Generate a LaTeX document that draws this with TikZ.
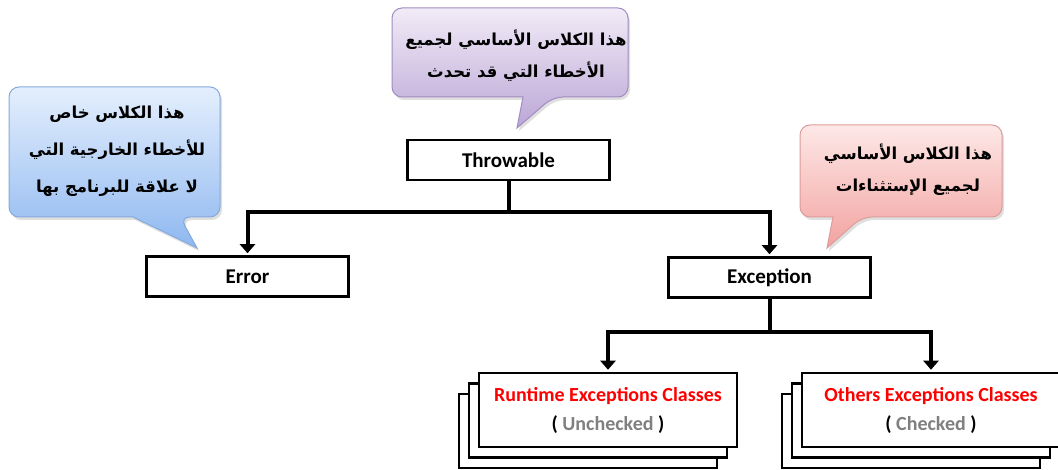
\documentclass[tikz,border=0pt]{standalone}
\usepackage{fontspec}
\setmainfont{Carlito}
\newfontfamily\arabicfont[Script=Arabic]{DejaVu Sans}
\TeXXeTstate=1
\usetikzlibrary{arrows.meta,shadows}

\definecolor{lilacTop}{HTML}{F1EBF7}
\definecolor{lilacBot}{HTML}{BBA6D6}
\definecolor{lilacEdge}{HTML}{A08CC2}
\definecolor{skyTop}{HTML}{E4EFFD}
\definecolor{skyBot}{HTML}{8FB8F0}
\definecolor{skyEdge}{HTML}{86A9DC}
\definecolor{roseTop}{HTML}{FDE8E7}
\definecolor{roseBot}{HTML}{F2A3A0}
\definecolor{roseEdge}{HTML}{DC9C9A}
\definecolor{tagGray}{HTML}{808080}

\begin{document}
\begin{tikzpicture}[x=1pt,y=-1pt,
 cls/.style={draw,line width=2.5pt,fill=white,minimum width=202pt,minimum height=40pt,inner sep=0pt,font=\fontsize{21}{24}\selectfont\bfseries},
 stack/.style={cls,minimum width=258pt,minimum height=74pt,align=center,font=\fontsize{20}{29}\selectfont\bfseries,
   general shadow={shadow xshift=-20pt,shadow yshift=-21pt,draw,line width=2.5pt,fill=white},
   general shadow={shadow xshift=-10pt,shadow yshift=-10.5pt,draw,line width=2.5pt,fill=white}},
 wire/.style={line width=4pt},
 arr/.style={wire,-{Triangle[width=15pt,length=9pt]},shorten >=2pt},
 bubble/.style={draw=#1Edge,line width=1pt,top color=#1Top,bottom color=#1Bot,rounded corners=10pt,
   drop shadow={shadow xshift=2pt,shadow yshift=-3pt,opacity=0.25}},
 note/.style={font=\arabicfont\bfseries\fontsize{16.5}{#1}\selectfont,align=center,inner sep=0pt}]
\useasboundingbox (0,0) rectangle (1058,470);

% speech bubbles
\path[bubble=lilac] (392,8) -- (628,8) -- (628,97) -- (553,97) [sharp corners] -- (517,128) -- (523,97) [rounded corners=10pt] -- (392,97) -- cycle;
\path[bubble=sky] (9,87) -- (220,87) -- (220,217) -- (180,217) [sharp corners] -- (197,248) -- (133,217) [rounded corners=10pt] -- (9,217) -- cycle;
\path[bubble=rose] (800,125) -- (1002,125) -- (1002,217) -- (862,217) [sharp corners] -- (827,248) -- (833,217) [rounded corners=10pt] -- (800,217) -- cycle;

\node[note=32] (noteTop) at (516,56) {\beginR هذا الكلاس الأساسي لجميع\endR\\\beginR الأخطاء التي قد تحدث\endR};
\node[note=37] (noteErr) at (117,151) {\beginR هذا الكلاس خاص\endR\\\beginR للأخطاء الخارجية التي\endR\\\beginR لا علاقة للبرنامج بها\endR};
\node[note=32] (noteExc) at (908,170) {\beginR هذا الكلاس الأساسي\endR\\\beginR لجميع الإستثناءات\endR};

% classes
\node[cls] (throw) at (508.5,160) {Throwable};
\node[cls] (error) at (247.5,276.5) {Error};
\node[cls] (exc) at (769.5,277.5) {Exception};
\node[stack] (runtime) at (608,410) {\textcolor{red}{Runtime Exceptions Classes}\\( \textcolor{tagGray}{Unchecked} )};
\node[stack] (others) at (931,410) {\textcolor{red}{Others Exceptions Classes}\\( \textcolor{tagGray}{Checked} )};

\coordinate (fork1) at (508.5,212);
\coordinate (fork2) at (769.5,332);
\draw[wire] (throw.south) -- (fork1);
\draw[arr] (fork1) -| (error.north);
\draw[arr] (fork1) -| (exc.north);
\draw[wire] (exc.south) -- (fork2);
\draw[arr] (fork2) -| (runtime.north);
\draw[arr] (fork2) -| (others.north);
\end{tikzpicture}
\end{document}
